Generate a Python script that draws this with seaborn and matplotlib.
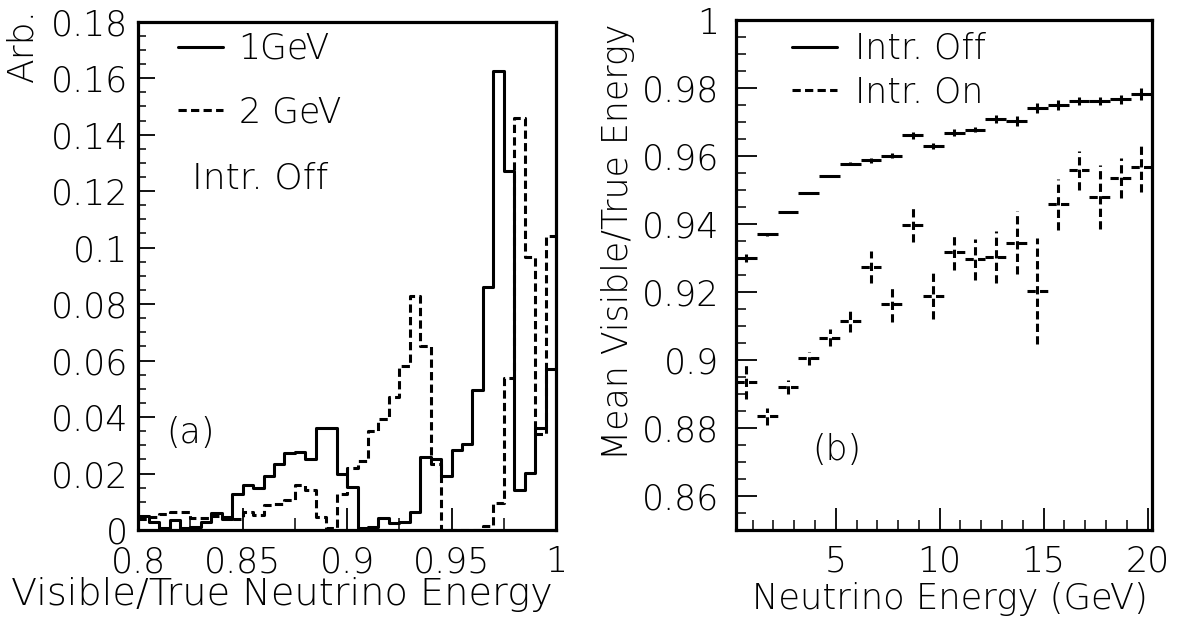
import numpy as np
import pandas as pd
import matplotlib
matplotlib.use("Agg")
import matplotlib.pyplot as plt
from matplotlib.lines import Line2D
from matplotlib.ticker import MultipleLocator
import seaborn as sns

# (a) visible/true energy histograms, 40 bins of 0.005 from 0.8 to 1.0
bin_lo = 0.8
bin_hi = 1.0
n_bins = 40
h_1gev = [0.0048, 0.003, 0.0006, 0.0036, 0.0006, 0.0012, 0.003, 0.006, 0.004, 0.0127,
          0.016, 0.0148, 0.019, 0.0232, 0.0273, 0.0277, 0.0253, 0.0362, 0.0362, 0.0198,
          0.0154, 0.0006, 0.0012, 0.0044, 0.0024, 0.003, 0.0065, 0.026, 0.0252, 0.019,
          0.0285, 0.0306, 0.0495, 0.086, 0.1625, 0.127, 0.0143, 0.0202, 0.0362, 0.057]
h_2gev = [0.004, 0.0045, 0.0055, 0.0062, 0.0062, 0.0042, 0.0042, 0.0048, 0.0045, 0.004,
          0.0065, 0.0053, 0.0087, 0.0091, 0.0107, 0.0158, 0.0142, 0.0046, 0.0006, 0.0128,
          0.022, 0.0246, 0.035, 0.0392, 0.047, 0.058, 0.0828, 0.065, 0.0234, 0.0,
          0.0, 0.0, 0.0, 0.0015, 0.0095, 0.054, 0.146, 0.0968, 0.034, 0.104]

# (b) mean visible/true energy vs neutrino energy
e_nu = [0.7, 1.7, 2.7, 3.7, 4.7, 5.7, 6.7, 7.7, 8.7, 9.7,
        10.7, 11.7, 12.7, 13.7, 14.7, 15.7, 16.7, 17.7, 18.7, 19.7]
off_mean = [0.9299, 0.9369, 0.9435, 0.9491, 0.954, 0.9577, 0.9587, 0.9601, 0.966, 0.9629,
            0.9668, 0.9677, 0.9709, 0.9702, 0.9742, 0.9749, 0.9761, 0.9761, 0.9766, 0.9783]
off_err = [0.0012, 0.0004, 0.0003, 0.0003, 0.0003, 0.0005, 0.0007, 0.0008, 0.001, 0.001,
           0.001, 0.0008, 0.0012, 0.0015, 0.0015, 0.0015, 0.0012, 0.0012, 0.0012, 0.0018]
on_mean = [0.8933, 0.8834, 0.892, 0.9004, 0.9065, 0.9113, 0.9273, 0.9165, 0.9396, 0.9187,
           0.9316, 0.9295, 0.9302, 0.9344, 0.9202, 0.9457, 0.9557, 0.9479, 0.9535, 0.9567]
on_err = [0.005, 0.0025, 0.002, 0.002, 0.0026, 0.0033, 0.0047, 0.0054, 0.005, 0.0067,
          0.0053, 0.0061, 0.0076, 0.0093, 0.0157, 0.0074, 0.0058, 0.0094, 0.0059, 0.0072]
bin_half = 0.5

sns.set_theme(style="ticks")
plt.rcParams["font.family"] = ["DejaVu Sans"]
plt.rcParams["font.weight"] = "light"
plt.rcParams["text.color"] = "black"
plt.rcParams["axes.labelcolor"] = "black"
plt.rcParams["axes.linewidth"] = 2.3
plt.rcParams["lines.scale_dashes"] = True

edges = list(np.linspace(bin_lo, bin_hi, n_bins + 1))
centers = [(a + b) / 2 for a, b in zip(edges[:-1], edges[1:])]
hist = pd.DataFrame({"x": centers, "GeV1": h_1gev, "GeV2": h_2gev})

dash = (0, (2.7, 1.4))
lw = 2.2

fig = plt.figure(figsize=(11.8, 6.22), dpi=100)
W, H = 1180, 622
ax1 = fig.add_axes([138.2 / W, 1 - 530 / H, 417.8 / W, 508.3 / H])
ax2 = fig.add_axes([736 / W, 1 - 529.5 / H, 415.7 / W, 509.5 / H])

# ---- panel (a)
sns.histplot(data=hist, x="x", weights="GeV1", bins=edges, element="step", fill=False,
             color="black", linewidth=lw, ax=ax1)
sns.histplot(data=hist, x="x", weights="GeV2", bins=edges, element="step", fill=False,
             color="black", linewidth=lw, linestyle=dash, ax=ax1)
ax1.set_xlim(bin_lo, bin_hi)
ax1.set_ylim(0, 0.18)
ax1.set_xlabel("")
ax1.set_ylabel("")
ax1.xaxis.set_minor_locator(MultipleLocator(0.025))
ax1.yaxis.set_minor_locator(MultipleLocator(0.005))
ax1.set_xticks([0.8, 0.85, 0.9, 0.95, 1.0], ["0.8", "0.85", "0.9", "0.95", "1"])
ax1.set_yticks(np.arange(0, 0.181, 0.02),
               ["0"] + ["%g" % v for v in np.arange(0.02, 0.181, 0.02).round(2)])
ax1.tick_params(axis="x", which="major", direction="in", length=16, width=1.3,
                labelsize=25, pad=11)
ax1.tick_params(axis="x", which="minor", direction="in", length=8.5, width=1.3)
ax1.tick_params(axis="y", which="major", direction="in", length=12, width=1.3,
                labelsize=25, pad=7)
ax1.tick_params(axis="y", which="minor", direction="in", length=6, width=1.3)

ax1.legend(handles=[Line2D([], [], color="black", lw=lw),
                    Line2D([], [], color="black", lw=lw, ls=dash)],
           labels=["1GeV", "2 GeV"], loc="upper left",
           bbox_to_anchor=(0.095, 0.98), frameon=False, fontsize=25,
           borderpad=0, borderaxespad=0, handlelength=1.3,
           handletextpad=0.45, labelspacing=0.85)
ax1.text(0.129, 0.6925, "Intr. Off", transform=ax1.transAxes, fontsize=26,
         ha="left", va="center")
ax1.text(0.126, 0.191, "(a)", transform=ax1.transAxes, fontsize=25,
         ha="center", va="center")

# ---- panel (b)
ax2.errorbar(e_nu, off_mean, yerr=off_err, xerr=bin_half, fmt="none",
             ecolor="black", elinewidth=lw, capsize=0)
eb = ax2.errorbar(e_nu, on_mean, yerr=on_err, xerr=bin_half, fmt="none",
                  ecolor="black", elinewidth=lw, capsize=0)
for coll in eb[2]:
    coll.set_linestyle(dash)
ax2.set_xlim(0.2, 20.2)
ax2.set_ylim(0.85, 1.0)
ax2.set_xticks([5, 10, 15, 20], ["5", "10", "15", "20"])
ax2.xaxis.set_minor_locator(MultipleLocator(1))
ax2.set_yticks(np.arange(0.86, 1.001, 0.02),
               ["%g" % v for v in np.arange(0.86, 1.001, 0.02).round(2)])
ax2.yaxis.set_minor_locator(MultipleLocator(0.005))
ax2.tick_params(axis="x", which="major", direction="in", length=16, width=1.3,
                labelsize=25, pad=11)
ax2.tick_params(axis="x", which="minor", direction="in", length=7, width=1.3)
ax2.tick_params(axis="y", which="major", direction="in", length=15, width=1.3,
                labelsize=25, pad=12)
ax2.tick_params(axis="y", which="minor", direction="in", length=7, width=1.3)

ax2.legend(handles=[Line2D([], [], color="black", lw=lw),
                    Line2D([], [], color="black", lw=lw, ls=dash)],
           labels=["Intr. Off", "Intr. On"], loc="upper left",
           bbox_to_anchor=(0.135, 0.977), frameon=False, fontsize=25,
           borderpad=0, borderaxespad=0, handlelength=1.3,
           handletextpad=0.5, labelspacing=0.28)
ax2.text(0.242, 0.156, "(b)", transform=ax2.transAxes, fontsize=25,
         ha="center", va="center")

for ax in (ax1, ax2):
    for side in ("top", "right", "left", "bottom"):
        ax.spines[side].set_visible(True)
        ax.spines[side].set_color("black")
    ax.tick_params(colors="black", top=False, right=False)

# axis titles, ROOT style (right / top aligned)
fig.text(553 / W, 1 - 594 / H, "Visible/True Neutrino Energy", fontsize=27.5,
         ha="right", va="center")
fig.text(1148 / W, 1 - 599 / H, "Neutrino Energy (GeV)", fontsize=25.5,
         ha="right", va="center")
fig.text(22 / W, 1 - 8 / H, "Arb.", fontsize=26, rotation=90, ha="center", va="top")
fig.text(618 / W, 1 - 23 / H, "Mean Visible/True Energy", fontsize=25, rotation=90,
         ha="center", va="top")

fig.savefig("out.png", dpi=100, facecolor="white")
